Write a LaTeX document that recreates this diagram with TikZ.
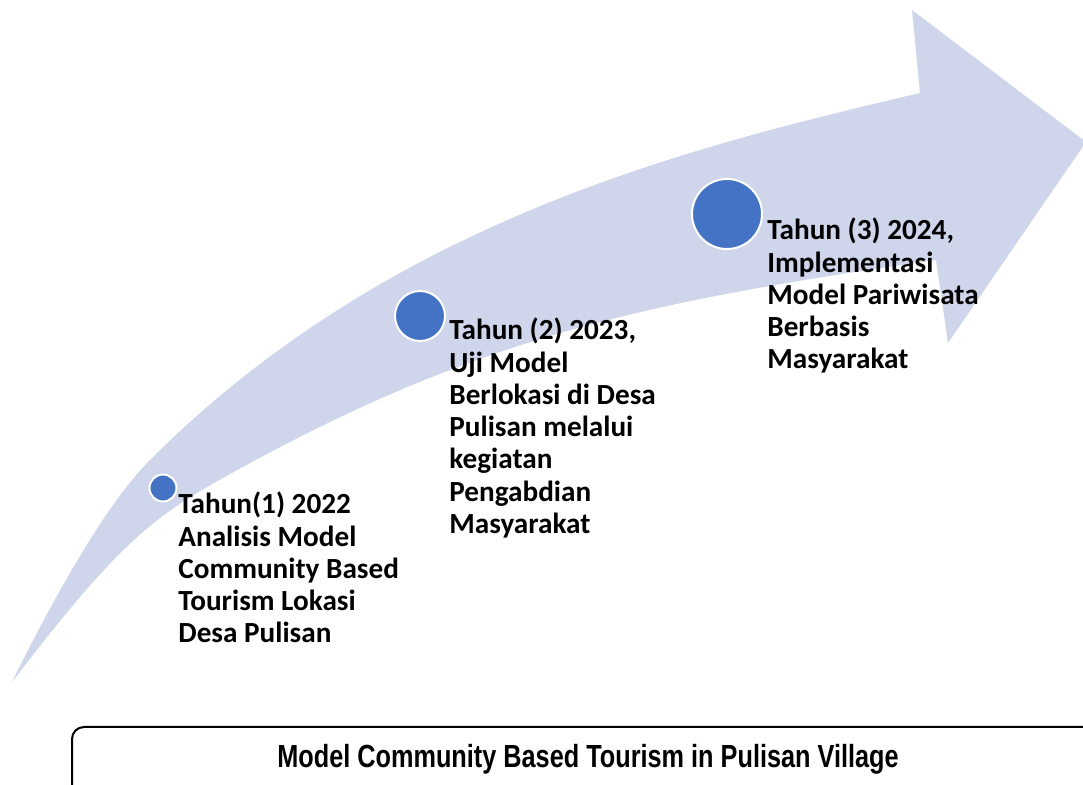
\documentclass[tikz,border=0pt]{standalone}
\usepackage{fontspec}
\setmainfont{Carlito}
\newfontfamily\capfont[FakeStretch=0.79]{Liberation Sans}
\usepackage{tikz}
\usetikzlibrary{calc}
\definecolor{bandblue}{HTML}{CFD5EA}
\definecolor{dotblue}{HTML}{4472C4}

\begin{document}
\begin{tikzpicture}
      [x = 0.5pt, y = -0.5pt,
      band/.style={fill = bandblue},
      dot/.style= {
         draw = white,
         line width = 1pt,
         fill = dotblue,
         circle,
         inner sep = 0pt
      },
      year/.style= {
         anchor = base west,
         align = left,
         inner sep = 0pt,
         font = \bfseries\fontsize{14.6}{16.125}\selectfont
      },
      caption/.style= {
         anchor = base,
         inner sep = 0pt,
         font = \capfont\bfseries\fontsize{16}{19}\selectfont
      }]

      \useasboundingbox (0, 0) rectangle (1083, 785);
      \clip (0, 0) rectangle (1083, 785);

      \fill[band] (12, 682) .. controls (68, 569) and (114, 496) .. (150, 460)
         .. controls (390, 220) and (690, 147) .. (920, 93)
         -- (912, 10) -- (1086, 142) -- (948, 343) -- (936, 260)
         .. controls (636, 303) and (467, 339) .. (207, 487)
         .. controls (143, 524) and (104, 562) .. (12, 682) -- cycle;

      \node[dot, minimum size = 13.5pt] (c1) at (163, 488) {};
      \node[dot, minimum size = 25pt] (c2) at (420, 316) {};
      \node[dot, minimum size = 35pt] (c3) at (727, 214) {};

      \node[year] (t1) at (178, 643) {Tahun(1) 2022\\Analisis Model\\Community Based\\Tourism Lokasi\\Desa Pulisan};
      \node[year] (t2) at (449, 533.5) {Tahun (2) 2023,\\Uji Model\\Berlokasi di Desa\\Pulisan melalui\\kegiatan\\Pengabdian\\Masyarakat};
      \node[year] (t3) at (767, 369) {Tahun (3) 2024,\\Implementasi\\Model Pariwisata\\Berbasis\\Masyarakat};

      \draw[line width = 1pt, rounded corners = 6pt] (72, 727) rectangle (1120, 820);
      \node[caption] (cap) at (588, 768) {Model Community Based Tourism in Pulisan Village};

\end{tikzpicture}
\end{document}
